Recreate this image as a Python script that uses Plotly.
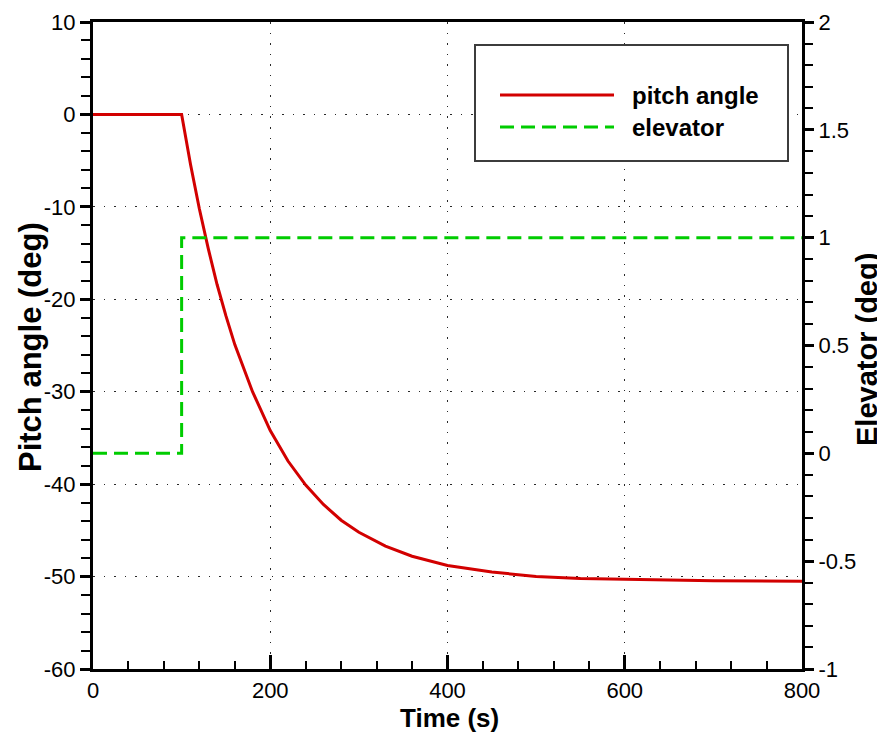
import plotly.graph_objects as go

# ---- data ----
time_pitch = [0, 100, 110, 120, 130, 140, 150, 160, 180, 200, 220, 240, 260, 280,
              300, 330, 360, 400, 450, 500, 550, 600, 700, 800]
pitch_angle = [0, 0, -5.4, -10.2, -14.5, -18.4, -21.8, -24.9, -30.0, -34.2, -37.5,
               -40.1, -42.2, -43.9, -45.2, -46.7, -47.8, -48.8, -49.5, -50.0,
               -50.2, -50.3, -50.45, -50.5]
time_elev = [0, 100, 100, 800]
elevator = [0, 0, 1, 1]

x_ticks = [0, 200, 400, 600, 800]
x_labels = ["0", "200", "400", "600", "800"]
y_ticks = [-60, -50, -40, -30, -20, -10, 0, 10]
y_labels = ["-60", "-50", "-40", "-30", "-20", "-10", "0", "10"]
y2_ticks = [-1, -0.5, 0, 0.5, 1, 1.5, 2]
y2_labels = ["-1", "-0.5", "0", "0.5", "1", "1.5", "2"]

RED = "rgb(210,0,0)"
GREEN = "rgb(0,204,0)"
FONT = "Liberation Sans, Arial, sans-serif"
GRID = dict(showgrid=True, gridcolor="rgb(40,40,40)", griddash="1.5px,9px", gridwidth=1)

fig = go.Figure()
fig.add_trace(go.Scatter(x=time_pitch, y=pitch_angle, mode="lines", name="pitch angle",
                         line=dict(color=RED, width=3), showlegend=False))
fig.add_trace(go.Scatter(x=time_elev, y=elevator, mode="lines", name="elevator",
                         yaxis="y2", line=dict(color=GREEN, width=3, dash="14px,7px"),
                         showlegend=False))

axis_common = dict(showline=True, linecolor="black", linewidth=3, automargin=False,
                   tickcolor="black", tickfont=dict(family=FONT, size=22, color="black"),
                   zeroline=False)

# page has an 8px body margin, so the figure is offset by 8px
OFF = 8
L, R, T, B = 93, 802, 22, 669
fig.update_layout(
    width=885 - OFF, height=734 - OFF,
    margin=dict(l=L - OFF, r=885 - R, t=T - OFF, b=734 - B),
    paper_bgcolor="white", plot_bgcolor="white",
    font=dict(family=FONT, color="black"),
    xaxis=dict(range=[0, 800], tickvals=x_ticks, ticktext=x_labels, ticks="inside",
               ticklen=14, tickwidth=3, mirror=True,
               minor=dict(dtick=40, ticks="inside", ticklen=8, tickwidth=2,
                          tickcolor="black", showgrid=False),
               **GRID, **axis_common),
    yaxis=dict(range=[-60, 10], tickvals=y_ticks, ticktext=y_labels, ticks="outside",
               ticklen=10, tickwidth=3,
               minor=dict(dtick=2, ticks="outside", ticklen=9, tickwidth=2,
                          tickcolor="black", showgrid=False),
               **GRID, **axis_common),
    yaxis2=dict(range=[-1, 2], tickvals=y2_ticks, ticktext=y2_labels, overlaying="y",
                side="right", ticks="outside", ticklen=9, tickwidth=3, showgrid=False,
                minor=dict(dtick=0.1, ticks="outside", ticklen=8, tickwidth=2,
                           tickcolor="black", showgrid=False),
                **axis_common),
)

def px(x):
    return (x - L) / (R - L)
def py(y):
    return (B - y) / (B - T)

# axis titles
fig.add_annotation(xref="paper", yref="paper", x=px(449), y=py(718), text="<b>Time (s)</b>",
                   showarrow=False, xanchor="center", yanchor="middle",
                   font=dict(family=FONT, size=26, color="black"))
fig.add_annotation(xref="paper", yref="paper", x=px(30), y=py(347),
                   text="<b>Pitch angle (deg)</b>", textangle=-90,
                   showarrow=False, xanchor="center", yanchor="middle",
                   font=dict(family=FONT, size=31, color="black"))
fig.add_annotation(xref="paper", yref="paper", x=px(867), y=py(350),
                   text="<b>Elevator (deg)</b>", textangle=-90,
                   showarrow=False, xanchor="center", yanchor="middle",
                   font=dict(family=FONT, size=29, color="black"))

# custom legend box
fig.add_shape(type="rect", xref="paper", yref="paper",
              x0=px(475), x1=px(788), y0=py(161), y1=py(45),
              line=dict(color="rgb(60,60,60)", width=2), fillcolor="white", layer="above")
fig.add_shape(type="line", xref="paper", yref="paper",
              x0=px(500), x1=px(614), y0=py(95), y1=py(95),
              line=dict(color=RED, width=3), layer="above")
fig.add_shape(type="line", xref="paper", yref="paper",
              x0=px(500), x1=px(614), y0=py(127), y1=py(127),
              line=dict(color=GREEN, width=3, dash="14px,7px"), layer="above")
for label, yy in [("pitch angle", 95), ("elevator", 127)]:
    fig.add_annotation(xref="paper", yref="paper", x=px(630), y=py(yy), text=f"<b>{label}</b>",
                       showarrow=False, xanchor="left", yanchor="middle",
                       font=dict(family=FONT, size=24, color="black"))

fig.write_html("out.html")
